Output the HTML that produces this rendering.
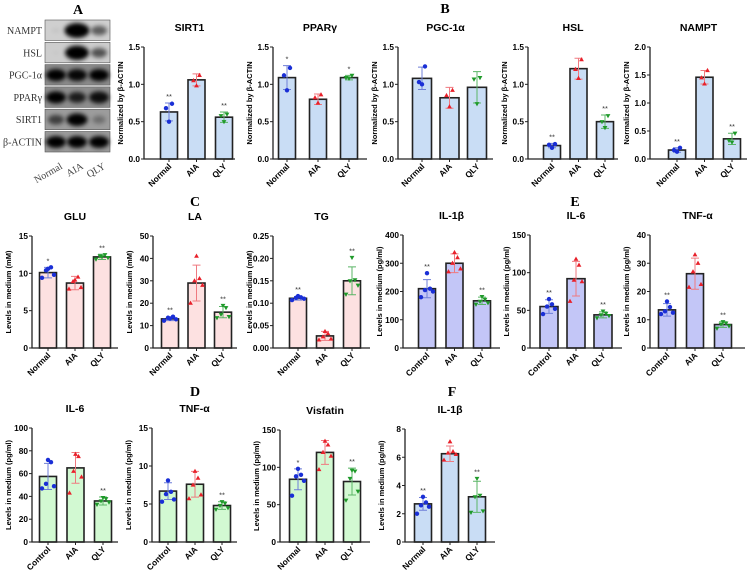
<!DOCTYPE html>
<html><head><meta charset="utf-8"><style>
body{margin:0;background:#fff}
svg{display:block;font-family:"Liberation Sans",Arial,sans-serif}
</style></head><body>
<svg id="fig" width="753" height="574" viewBox="0 0 753 574" xmlns="http://www.w3.org/2000/svg">
<defs><filter id="blur" x="-50%" y="-50%" width="200%" height="200%"><feGaussianBlur stdDeviation="2.2"/></filter></defs>
<g font-family="Liberation Serif, serif" font-weight="bold" font-size="14" text-anchor="middle">
<text x="78" y="14">A</text>
<text x="445" y="13">B</text>
<text x="195" y="206">C</text>
<text x="575" y="206">E</text>
<text x="195" y="396">D</text>
<text x="452" y="396">F</text>
</g>
<g id="blot"></g>
</svg>
<script>
// ---- data ----
const cats3 = ["Normal","AIA","QLY"];
const catsCtrl = ["Control","AIA","QLY"];
const sirt1Means=[0.63,1.06,0.56], sirt1Sd=[0.12,0.08,0.07], sirt1Pts=[[0.5,0.68,0.74],[0.98,1.05,1.12],[0.5,0.58,0.6]], sirt1Stars=["**","","**"];
const pparMeans=[1.09,0.80,1.09], pparSd=[0.16,0.07,0.03], pparPts=[[0.92,1.12,1.22],[0.75,0.82,0.86],[1.08,1.09,1.12]], pparStars=["*","","*"];
const pgcMeans=[1.08,0.82,0.96], pgcSd=[0.15,0.14,0.21], pgcPts=[[1.0,1.03,1.24],[0.7,0.85,0.92],[0.74,1.07,1.09]], pgcStars=["","",""];
const hslMeans=[0.18,1.21,0.50], hslSd=[0.03,0.14,0.09], hslPts=[[0.15,0.19,0.2],[1.08,1.2,1.33],[0.42,0.5,0.58]], hslStars=["**","","**"];
const namptMeans=[0.16,1.46,0.36], namptSd=[0.04,0.12,0.1], namptPts=[[0.13,0.16,0.2],[1.34,1.45,1.58],[0.3,0.33,0.46]], namptStars=["**","","**"];
const gluMeans=[10.1,8.7,12.2], gluSd=[0.7,0.9,0.35], gluPts=[[9.4,9.8,10.4,10.8,10.6],[7.9,8.1,8.9,9.5,9.1],[11.9,12.1,12.3,12.5,12.2]], gluStars=["*","","**"];
const laMeans=[13,29,16], laSd=[0.8,8,2.5], laPts=[[12.2,12.8,13.5,14,13.2],[20,28,30,31,41],[13.5,14,15,18,19]], laStars=["**","","**"];
const tgMeans=[0.111,0.027,0.15], tgSd=[0.004,0.01,0.031], tgPts=[[0.107,0.11,0.112,0.113,0.116],[0.018,0.02,0.025,0.032,0.037],[0.12,0.14,0.15,0.152,0.202]], tgStars=["**","","**"];
const il1eMeans=[210,300,167], il1eSd=[32,33,13], il1ePts=[[180,200,205,210,265],[270,280,300,320,338],[155,160,165,172,182]], il1eStars=["**","","**"];
const il6eMeans=[55,92,44], il6eSd=[9,23,4], il6ePts=[[45,52,55,58,65],[62,88,90,110,118],[40,43,44,46,49]], il6eStars=["**","","**"];
const tnfeMeans=[13.5,26.3,8.3], tnfeSd=[2.2,5.5,1], tnfePts=[[12,12.5,13,14.5,16.5],[21.5,22.5,27,30,33],[7,7.8,8.4,8.8,9.3]], tnfeStars=["**","","**"];
const il6dMeans=[57.5,65,36], il6dSd=[11.5,13.5,3.5], il6dPts=[[47,49,51,70,72],[43,57,62,75,77],[33,35,36,38,39]], il6dStars=["","","**"];
const tnfdMeans=[6.7,7.6,4.8], tnfdSd=[1.1,1.7,0.5], tnfdPts=[[5.3,5.6,6.3,6.6,8.1],[5.7,6.2,7.5,8.4,9.3],[4.3,4.5,4.8,5.1,5.3]], tnfdStars=["","","**"];
const visMeans=[84,120,81], visSd=[14,16,18], visPts=[[62,82,88,90,98],[97,115,120,130,135],[56,68,85,95,96]], visStars=["*","","**"];
const il1fMeans=[2.7,6.25,3.2], il1fSd=[0.45,0.55,1.1], il1fPts=[[2.0,2.5,2.6,2.8,3.2],[5.8,6.2,6.3,6.4,7.1],[2.1,2.2,3.2,3.3,4.5]], il1fStars=["**","","**"];
const ticks15=["0.0","0.5","1.0","1.5"], ticks20=["0.0","0.5","1.0","1.5","2.0"];
const ticksGlu=["0","5","10","15"], ticksLa=["0","10","20","30","40","50"], ticksTg=["0.00","0.05","0.10","0.15","0.20","0.25"];
const ticks400=["0","100","200","300","400"], ticks150=["0","50","100","150"], ticks40=["0","10","20","30","40"];
const ticks100=["0","20","40","60","80","100"], ticks15i=["0","5","10","15"], ticks8=["0","2","4","6","8"];

const NS="http://www.w3.org/2000/svg";
const svg=document.getElementById('fig');
function mk(tag,attrs,parent){const e=document.createElementNS(NS,tag);for(const k in attrs)e.setAttribute(k,attrs[k]);(parent||svg).appendChild(e);return e;}
const BLUE="#c9ddf5",PINK="#fde1e1",PERI="#c3c6f7",GREEN="#d2f9d2";
const ptCol=["#1a2fd6","#e8202a","#1f9a2a"], errCol=["#6f7fd8","#ef7a80","#5ab566"];
const ylabN="Normalized by β-ACTIN", ylabM="Levels in medium (mM)", ylabP="Levels in medium (pg/ml)";
const jit3=[0,-3,3], jit5=[-6,6,-2,3,0];

function panel(name,title,ax,top,bot,end,c0,sp,bw,ymax,ticks,means,sd,pts,stars,cats,fill,ylab){
  const g=mk('g',{});
  
  
  const y=v=>bot-(v/ymax)*(bot-top);
  const t=mk('text',{x:(ax+end)/2,y:top-16,'font-size':10.5,'font-weight':'bold','text-anchor':'middle'},g);
  t.textContent=title;
  
  
  const yl=mk('text',{transform:`translate(${ax-21},${(top+bot)/2}) rotate(-90)`,'font-size':7.5,'font-weight':'bold','text-anchor':'middle'},g);
  yl.textContent=ylab;
  
  
  ticks.forEach((tk,i)=>{
    const v=ymax*i/(ticks.length-1), yy=y(v);
    mk('line',{x1:ax-3,x2:ax,y1:yy,y2:yy,stroke:'#222','stroke-width':1},g);
    const tl=mk('text',{x:ax-4,y:yy+3,'font-size':8.3,'font-weight':'bold','text-anchor':'end'},g);
    tl.textContent=tk;
    
    
  });
  means.forEach((m,i)=>{
    const cx=c0+i*sp;
    const b=mk('rect',{x:cx-bw/2,y:y(m),width:bw,height:bot-y(m),fill:fill,stroke:'#222','stroke-width':1.6},g);
    
    
    const hi=y(m+sd[i]), lo=y(m-sd[i]);
    mk('path',{d:`M${cx},${hi}V${lo}M${cx-4},${hi}H${cx+4}M${cx-4},${lo}H${cx+4}`,stroke:errCol[i],'stroke-width':1,fill:'none'},g);
    const n=pts[i].length, jit=n>3?jit5:jit3;
    pts[i].forEach((p,j)=>{
      const px=cx+(jit[j]||0), py=y(p);
      let mark;
      if(i===0) mark=mk('circle',{cx:px,cy:py,r:2.2,fill:ptCol[0]},g);
      else if(i===1) mark=mk('path',{d:`M${px},${py-2.6}L${px+2.4},${py+1.6}L${px-2.4},${py+1.6}Z`,fill:ptCol[1]},g);
      else mark=mk('path',{d:`M${px},${py+2.6}L${px+2.4},${py-1.6}L${px-2.4},${py-1.6}Z`,fill:ptCol[2]},g);
      
      
    });
    if(stars[i]){
      const s=mk('text',{x:cx,y:Math.min(hi,y(Math.max(...pts[i])))-4,'font-size':7.5,'text-anchor':'middle',fill:'#333'},g);
      s.textContent=stars[i];
      
      
    }
    mk('line',{x1:cx,x2:cx,y1:bot,y2:bot+3,stroke:'#222','stroke-width':1},g);
    const xl=mk('text',{transform:`translate(${cx+3},${bot+8}) rotate(-45)`,'font-size':8.3,'font-weight':'bold','text-anchor':'end'},g);
    xl.textContent=cats[i];
    
    
  });
  mk('path',{d:`M${ax},${top}V${bot}H${end}`,stroke:'#222','stroke-width':1.3,fill:'none'},g);
}
// row 1
panel('sirt1','SIRT1',144,47,159,235,169,27.5,17,1.5,ticks15,sirt1Means,sirt1Sd,sirt1Pts,sirt1Stars,cats3,BLUE,ylabN);
panel('ppar-gamma','PPARγ',273,47,159,367,287,31,17,1.5,ticks15,pparMeans,pparSd,pparPts,pparStars,cats3,BLUE,ylabN);
panel('pgc-1a','PGC-1α',398,47,159,493,422,27.5,19,1.5,ticks15,pgcMeans,pgcSd,pgcPts,pgcStars,cats3,BLUE,ylabN);
panel('hsl','HSL',528,47,159,618,552,26.5,17,1.5,ticks15,hslMeans,hslSd,hslPts,hslStars,cats3,BLUE,ylabN);
panel('nampt','NAMPT',650,47,159,747,677,27.5,17,2.0,ticks20,namptMeans,namptSd,namptPts,namptStars,cats3,BLUE,ylabN);
// row 2
panel('glu','GLU',32,236,348,118,48,27,17,15,ticksGlu,gluMeans,gluSd,gluPts,gluStars,cats3,PINK,ylabM);
panel('la','LA',153,236,348,237,170,26.5,17,50,ticksLa,laMeans,laSd,laPts,laStars,cats3,PINK,ylabM);
panel('tg','TG',273,236,348,370,298,27,17,0.25,ticksTg,tgMeans,tgSd,tgPts,tgStars,cats3,PINK,ylabM);
panel('il-1b-e','IL-1β',403,235,348,500,427,27.5,17,400,ticks400,il1eMeans,il1eSd,il1ePts,il1eStars,catsCtrl,PERI,ylabP);
panel('il-6-e','IL-6',530,235,348,622,549,27,18,150,ticks150,il6eMeans,il6eSd,il6ePts,il6eStars,catsCtrl,PERI,ylabP);
panel('tnf-a-e','TNF-α',650,235,348,745,667,28,17,40,ticks40,tnfeMeans,tnfeSd,tnfePts,tnfeStars,catsCtrl,PERI,ylabP);
// row 3
panel('il-6-d','IL-6',32,428,542,118,48,27.5,17,100,ticks100,il6dMeans,il6dSd,il6dPts,il6dStars,catsCtrl,GREEN,ylabP);
panel('tnf-a-d','TNF-α',152,428,542,237,168,27,17,15,ticks15i,tnfdMeans,tnfdSd,tnfdPts,tnfdStars,catsCtrl,GREEN,ylabP);
panel('visfatin','Visfatin',280,430,542,370,298,27,17,150,ticks150,visMeans,visSd,visPts,visStars,cats3,GREEN,ylabP);
panel('il-1b-f','IL-1β',405,429,542,495,423,27,17,8,ticks8,il1fMeans,il1fSd,il1fPts,il1fStars,cats3,BLUE,ylabP);

// western blot
const blot=document.getElementById('blot');
const blotRows=["NAMPT","HSL","PGC-1α","PPARγ","SIRT1","β-ACTIN"];
const blotBg=["#cfcfcf","#cdcdcd","#8a8a8a","#8d8d8d","#9c9c9c","#9a9a9a"];
const blotInt=[[0.05,1,0.55],[0.03,1,0.6],[1,0.95,1],[1,0.8,0.9],[0.6,1,0.3],[1,1,1]];
const blotSize=[[0.4,1.25,0.8],[0.3,1.2,0.8],[1,1,1],[1,0.9,1],[0.8,1.05,0.65],[1,1,1]];
blotRows.forEach((r,i)=>{
  const y0=20+i*22.3;
  const box=mk('rect',{x:45,y:y0,width:65,height:20.5,fill:blotBg[i],stroke:'#555','stroke-width':0.6},blot);
  
  
  [56,77,99].forEach((cx,j)=>{
    const k=blotSize[i][j];
    mk('ellipse',{cx:cx,cy:y0+10.5,rx:10*k,ry:6*k,fill:'#000',opacity:blotInt[i][j],filter:'url(#blur)'},blot);
  });
  const l=mk('text',{x:42,y:y0+14,'font-family':'Liberation Serif, serif','font-size':10,'text-anchor':'end',fill:'#333'},blot);
  l.textContent=r;
  
  
});
["Normal","AIA","QLY"].forEach((c,j)=>{
  const cx=[56,77,99][j];
  const l=mk('text',{transform:`translate(${cx+7},${168}) rotate(-30)`,'font-family':'Liberation Serif, serif','font-size':10,'text-anchor':'end',fill:'#444'},blot);
  l.textContent=c;
  
  
});
</script>
</body></html>
